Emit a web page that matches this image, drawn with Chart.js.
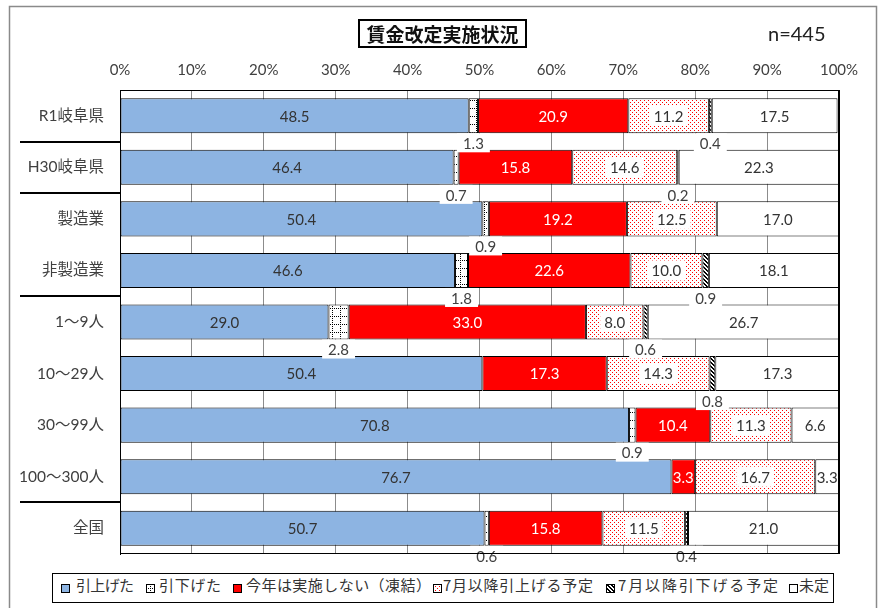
<!DOCTYPE html>
<html><head><meta charset="utf-8">
<script src="https://cdn.jsdelivr.net/npm/chart.js@4"></script>
<style>
html,body{margin:0;padding:0;background:#fff;}
#wrap{position:relative;width:880px;height:608px;overflow:hidden;}
#c{position:absolute;left:0;top:0;}
#title{position:absolute;left:358px;top:19px;width:165px;height:25px;border:2px solid #000;font:bold 19px "Noto Sans CJK JP";line-height:25px;text-align:center;color:#111;white-space:nowrap;}
#n{position:absolute;left:768px;top:21px;font:20px Lato,"Noto Sans";color:#222;}
#legend{position:absolute;left:52px;top:573px;width:780px;height:28px;border:1.5px solid #000;background:#fff;}
.li{position:absolute;top:0;height:28px;line-height:28px;font:15px "Noto Sans CJK JP";color:#333;white-space:nowrap;}
.mk{position:absolute;top:10px;width:9px;height:9px;}
</style></head>
<body>
<div id="wrap">
<canvas id="c" width="880" height="608"></canvas>
<div id="title">賃金改定実施状況</div>
<div id="n">n=445</div>
<div id="legend"></div>
</div>
<script>
const categories = ['R1岐阜県','H30岐阜県','製造業','非製造業','1～9人','10～29人','30～99人','100～300人','全国'];
const seriesNames = ['引上げた','引下げた','今年は実施しない（凍結）','7月以降引上げる予定','7月以降引下げる予定','未定'];
const raised    = [48.5,46.4,50.4,46.6,29.0,50.4,70.8,76.7,50.7];
const lowered   = [1.3,0.7,0.9,1.8,2.8,0,0.9,0,0.6];
const frozen    = [20.9,15.8,19.2,22.6,33.0,17.3,10.4,3.3,15.8];
const planUp    = [11.2,14.6,12.5,10.0,8.0,14.3,11.3,16.7,11.5];
const planDown  = [0.4,0.2,0,0.9,0.6,0.8,0,0,0.4];
const undecided = [17.5,22.3,17.0,18.1,26.7,17.3,6.6,3.3,21.0];
const xTicks = [0,10,20,30,40,50,60,70,80,90,100];
const groupBreaks = [0,1,3,7];

function makePattern(type){
  const c=document.createElement('canvas');
  const s = type==='grid'?8:4;
  c.width=s;c.height=s;
  const g=c.getContext('2d');
  g.fillStyle='#fff';g.fillRect(0,0,s,s);
  if(type==='grid'){
    g.fillStyle='#000';
    for(let i=0;i<s;i+=2){g.fillRect(4,i,1,1);g.fillRect(i,4,1,1);}
  } else if(type==='dots'){
    g.fillStyle='#ff0000';
    g.fillRect(0,0,1,1);g.fillRect(2,2,1,1);
  } else if(type==='diag'){
    g.fillStyle='#000';
    for(let y=0;y<s;y++){for(let x=0;x<s;x++){const d=((x-y)%4+4)%4;if(d===0||d===1)g.fillRect(x,y,1,1);}}
  }
  return g.createPattern(c,'repeat');
}
const fills = ['#8DB4E2', makePattern('grid'), '#FF0000', makePattern('dots'), makePattern('diag'), '#FFFFFF'];
const labelColors = ['#333','#404040','#ffffff','#333','#404040','#333'];
const below = [false,true,false,false,true,false];
const boxed = [false,false,false,true,false,false];
const seriesData = [raised,lowered,frozen,planUp,planDown,undecided];

const datasets = seriesData.map((arr,k)=>({
  label: seriesNames[k],
  data: arr.map(v=> v>0 ? v : null),
  backgroundColor: fills[k],
  borderColor:'#000',
  borderWidth:1,
  borderSkipped:false,
  categoryPercentage:1.0,
  barPercentage:0.68,
  labelColor: labelColors[k], below: below[k], boxed: boxed[k]
}));

const framePlugin = {
  id:'frame',
  beforeDraw(chart){
    const ctx=chart.ctx;
    ctx.save();
    ctx.fillStyle='#fff';ctx.fillRect(0,0,chart.width,chart.height);
    ctx.strokeStyle='#8a8a8a';ctx.lineWidth=1.5;
    ctx.strokeRect(9.5,6.5,867,640);
    ctx.restore();
  },
  afterDraw(chart){
    const ctx=chart.ctx, a=chart.chartArea, y=chart.scales.y;
    ctx.save();
    ctx.strokeStyle='#000';ctx.lineWidth=1;
    ctx.beginPath();
    ctx.moveTo(Math.round(a.right)-0.5,a.top);ctx.lineTo(Math.round(a.right)-0.5,a.bottom);
    ctx.moveTo(a.left,Math.round(a.bottom)-0.5);ctx.lineTo(a.right,Math.round(a.bottom)-0.5);
    ctx.stroke();
    ctx.lineWidth=2;
    ctx.beginPath();
    groupBreaks.forEach(i=>{
      const yy=Math.round((y.getPixelForValue(i)+y.getPixelForValue(i+1))/2);
      ctx.moveTo(20,yy);ctx.lineTo(a.left,yy);
    });
    ctx.stroke();
    ctx.restore();
  }
};

const labelPlugin = {
  id:'vlabels',
  afterDatasetsDraw(chart){
    const ctx=chart.ctx;
    ctx.save();
    ctx.font='15px Lato, "Noto Sans CJK JP"';
    ctx.textAlign='center';ctx.textBaseline='middle';
    const lateBelow=[];
    chart.data.datasets.forEach((ds,di)=>{
      const meta=chart.getDatasetMeta(di);
      meta.data.forEach((el,i)=>{
        const v=ds.data[i];
        if(v==null) return;
        const txt=v.toFixed(1);
        const cx=(el.x+el.base)/2;
        const w=ctx.measureText(txt).width;
        if(ds.below){
          lateBelow.push({txt,cx,cy:el.y+el.height/2+10,w,color:ds.labelColor});
        } else {
          if(ds.boxed){ctx.fillStyle='#fff';ctx.fillRect(cx-w/2-4,el.y-10,w+8,20);}
          ctx.fillStyle=ds.labelColor;ctx.fillText(txt,cx,el.y+1);
        }
      });
    });
    lateBelow.forEach(l=>{
      ctx.fillStyle='#fff';ctx.fillRect(l.cx-l.w/2-6,l.cy-10,l.w+12,19);
      ctx.fillStyle=l.color;ctx.fillText(l.txt,l.cx,l.cy+1);
    });
    ctx.restore();
  }
};

new Chart(document.getElementById('c'),{
  type:'bar',
  data:{labels:categories,datasets},
  options:{
    indexAxis:'y',
    responsive:false,
    animation:false,
    devicePixelRatio:1,
    layout:{padding:{left:0,top:0,right:41,bottom:54}},
    plugins:{legend:{display:false},tooltip:{enabled:false}},
    scales:{
      x:{
        stacked:true,position:'top',min:0,max:100,
        afterBuildTicks(s){s.ticks=xTicks.map(v=>({value:v}));},
        afterFit(s){s.height=90;},
        ticks:{callback:v=>v+'%',font:{family:'Lato, "Noto Sans"',size:15},color:'#404040',padding:11,maxRotation:0},
        grid:{drawTicks:false,color:c=>c.tick&&c.tick.value===100?'#000':'#8c8c8c',lineWidth:1},
        border:{display:true,color:'#000',width:1}
      },
      y:{
        stacked:true,
        afterFit(s){s.width=120;},
        ticks:{font:{family:'Lato, "Noto Sans CJK JP"',size:15.5},color:'#404040',padding:16},
        grid:{display:false,drawTicks:false},
        border:{display:true,color:'#000',width:1}
      }
    }
  },
  plugins:[framePlugin,labelPlugin]
});

// legend (positions relative to the legend box)
const lg=document.getElementById('legend');
const mkX=[8,93,180,380,553,736];
const txX=[23,106,193,390,565,746];
const txW=[58,62,185,150,160,30];
seriesNames.forEach((name,k)=>{
  const m=document.createElement('canvas');
  m.className='mk';m.width=9;m.height=9;m.style.left=mkX[k]+'px';
  const g=m.getContext('2d');
  g.fillStyle=fills[k];g.fillRect(0,0,9,9);
  g.strokeStyle='#000';g.lineWidth=1;g.strokeRect(0.5,0.5,8,8);
  lg.appendChild(m);
  const t=document.createElement('div');
  t.className='li';t.style.left=txX[k]+'px';t.textContent=name;
  lg.appendChild(t);
  const nat=t.getBoundingClientRect().width;
  const n=[...name].length;
  const ls=(txW[k]-nat)/Math.max(1,n-1);
  if(Math.abs(ls)>0.05) t.style.letterSpacing=ls.toFixed(2)+'px';
});
</script>
</body></html>
